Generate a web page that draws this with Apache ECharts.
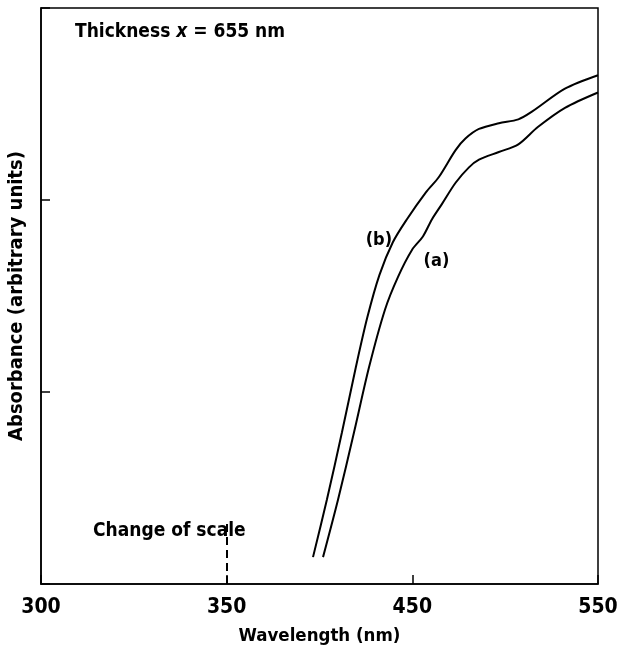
<!DOCTYPE html>
<html>
<head>
<meta charset="utf-8">
<script src="https://cdn.jsdelivr.net/npm/echarts@6/dist/echarts.min.js"></script>
<style>
  html, body { margin: 0; padding: 0; background: #fff; }
  #chart { width: 618px; height: 650px; }
</style>
</head>
<body>
<div id="chart"></div>
<script>
// Absorption spectra of a film, thickness 655 nm
const FONT = '"DejaVu Sans Condensed", "DejaVu Sans", sans-serif';

// Wavelength (nm) and absorbance (arbitrary units) for curve (a)
const wavelengthA = [401.9, 410.0, 418.6, 426.7, 435.3, 442.3, 449.8, 455.7, 460.6, 466.0, 473.3, 480.5, 485.9, 496.6, 507.1, 517.6, 532.2, 550.0];
const absorbanceA = [0.14, 0.44, 0.79, 1.13, 1.43, 1.60, 1.74, 1.81, 1.90, 1.98, 2.09, 2.17, 2.21, 2.25, 2.29, 2.38, 2.48, 2.56];

// Wavelength (nm) and absorbance (arbitrary units) for curve (b)
const wavelengthB = [396.5, 404.0, 412.1, 419.6, 425.8, 432.3, 439.5, 447.1, 457.3, 464.3, 473.3, 478.6, 485.9, 496.6, 507.1, 514.4, 532.2, 550.0];
const absorbanceB = [0.14, 0.44, 0.79, 1.13, 1.39, 1.61, 1.78, 1.90, 2.04, 2.12, 2.26, 2.32, 2.37, 2.40, 2.42, 2.46, 2.58, 2.65];

// Wavelength axis with a change of scale at 350 nm:
// 300-350 nm and each 100 nm beyond 350 take one axis unit
const xTickLabels = ['300', '350', '450', '550'];
const scaleBreak = 350;

function axisPos(lambda) {
  if (lambda <= scaleBreak) return (lambda - 300) / 50;
  return 1 + (lambda - scaleBreak) / 100;
}

function toPoints(xs, ys) {
  return xs.map((l, i) => [axisPos(l), ys[i]]);
}

const chart = echarts.init(document.getElementById('chart'));

const curveLabel = {
  show: true, fontFamily: FONT, fontSize: 18, fontWeight: 'bold', color: '#000'
};

chart.setOption({
  backgroundColor: '#fff',
  animation: false,
  grid: {
    left: 41, right: 20, top: 8, bottom: 66,
    containLabel: false,
    outerBoundsMode: 'none',
    show: true, borderColor: '#000', borderWidth: 1.5, backgroundColor: 'transparent'
  },
  title: {
    text: 'Thickness {i|x} = 655 nm',
    left: 70, top: 18,
    textStyle: {
      fontFamily: FONT, fontSize: 19, fontWeight: 'bold', color: '#000',
      rich: {
        i: { fontFamily: FONT, fontSize: 19, fontStyle: 'italic', fontWeight: 'bold', color: '#000' }
      }
    }
  },
  xAxis: {
    type: 'value',
    min: 0, max: 3, interval: 1,
    name: 'Wavelength (nm)',
    nameLocation: 'middle',
    nameGap: 43,
    nameTextStyle: { fontFamily: FONT, fontSize: 18.5, fontWeight: 'bold', color: '#000' },
    axisLine: { show: true, lineStyle: { color: '#000', width: 1.5 } },
    axisTick: { show: true, inside: true, length: 9, lineStyle: { color: '#000', width: 1.5 } },
    axisLabel: {
      fontFamily: FONT, fontSize: 21, fontWeight: 'bold', color: '#000', margin: 13,
      formatter: v => {
        const i = Math.round(v);
        return xTickLabels[i] !== undefined ? xTickLabels[i] : '';
      }
    },
    splitLine: { show: false }
  },
  yAxis: {
    type: 'value',
    min: 0, max: 3, interval: 1,
    name: 'Absorbance (arbitrary units)',
    nameLocation: 'middle',
    nameGap: 14,
    nameRotate: 90,
    nameTextStyle: { fontFamily: FONT, fontSize: 20, fontWeight: 'bold', color: '#000' },
    axisLine: { show: true, lineStyle: { color: '#000', width: 1.5 } },
    axisTick: { show: true, inside: true, length: 9, lineStyle: { color: '#000', width: 1.5 } },
    axisLabel: { show: false },
    splitLine: { show: false }
  },
  series: [
    {
      name: '(a)',
      type: 'line',
      data: toPoints(wavelengthA, absorbanceA),
      smooth: 0.3,
      showSymbol: false,
      lineStyle: { color: '#000', width: 2 },
      markPoint: {
        symbol: 'circle', symbolSize: 0,
        data: [{ coord: [axisPos(463), 1.68], value: '(a)' }],
        label: Object.assign({ formatter: '(a)' }, curveLabel)
      },
      markLine: {
        silent: true,
        symbol: 'none',
        lineStyle: { color: '#000', width: 2, type: [8, 5] },
        label: { show: false },
        data: [[{ coord: [axisPos(scaleBreak), 0] }, { coord: [axisPos(scaleBreak), 0.32] }]]
      }
    },
    {
      name: '(b)',
      type: 'line',
      data: toPoints(wavelengthB, absorbanceB),
      smooth: 0.3,
      showSymbol: false,
      lineStyle: { color: '#000', width: 2 },
      markPoint: {
        symbol: 'circle', symbolSize: 0,
        data: [{ coord: [axisPos(432), 1.79], value: '(b)' }],
        label: Object.assign({ formatter: '(b)' }, curveLabel)
      }
    }
  ],
  graphic: [
    {
      type: 'text',
      left: 93, top: 522,
      style: { text: 'Change of scale', fontFamily: FONT, fontSize: 19, fontWeight: 'bold', fill: '#000' }
    }
  ]
});
</script>
</body>
</html>
